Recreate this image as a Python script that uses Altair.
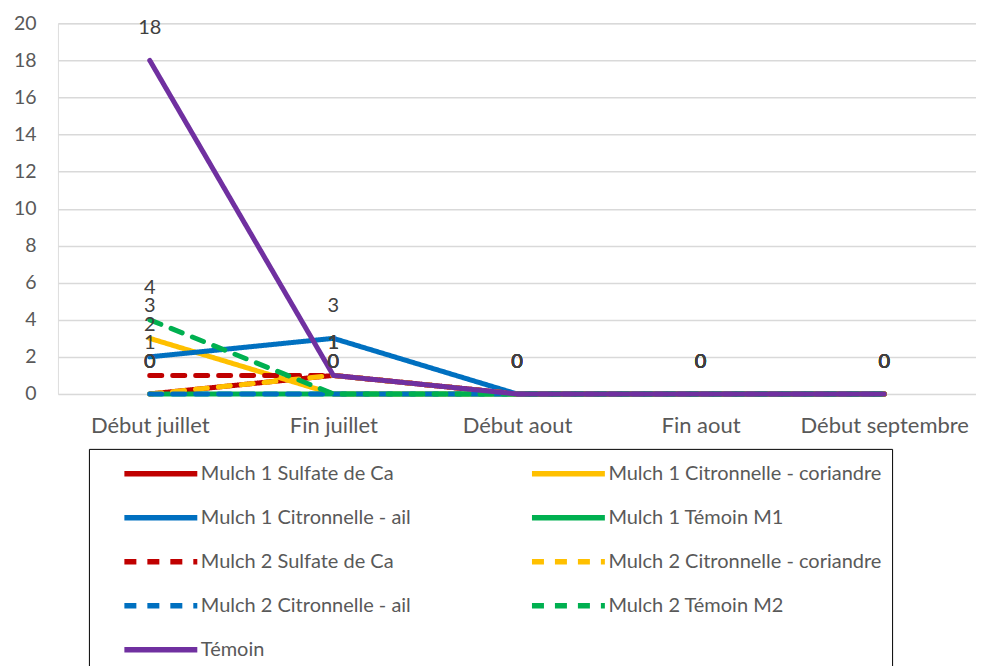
import altair as alt
import pandas as pd

categories = ["Début juillet", "Fin juillet", "Début aout", "Fin aout", "Début septembre"]

series_names = [
    "Mulch 1 Sulfate de Ca",
    "Mulch 1 Citronnelle - coriandre",
    "Mulch 1 Citronnelle - ail",
    "Mulch 1 Témoin M1",
    "Mulch 2 Sulfate de Ca",
    "Mulch 2 Citronnelle - coriandre",
    "Mulch 2 Citronnelle - ail",
    "Mulch 2 Témoin M2",
    "Témoin",
]

m1_sulfate = [0, 1, 0, 0, 0]
m1_cit_coriandre = [3, 0, 0, 0, 0]
m1_cit_ail = [2, 3, 0, 0, 0]
m1_temoin = [0, 0, 0, 0, 0]
m2_sulfate = [1, 1, 0, 0, 0]
m2_cit_coriandre = [0, 1, 0, 0, 0]
m2_cit_ail = [0, 0, 0, 0, 0]
m2_temoin = [4, 0, 0, 0, 0]
temoin = [18, 1, 0, 0, 0]

y_ticks = [0, 2, 4, 6, 8, 10, 12, 14, 16, 18, 20]

series_values = [m1_sulfate, m1_cit_coriandre, m1_cit_ail, m1_temoin,
                 m2_sulfate, m2_cit_coriandre, m2_cit_ail, m2_temoin, temoin]

colors = ["#C00000", "#FFC000", "#0070C0", "#00B050",
          "#C00000", "#FFC000", "#0070C0", "#00B050", "#7030A0"]
dashes = [[1, 0], [1, 0], [1, 0], [1, 0],
          [12, 11], [12, 11], [12, 11], [12, 11], [1, 0]]

rows = []
for i, (name, vals) in enumerate(zip(series_names, series_values)):
    for j, (cat, v) in enumerate(zip(categories, vals)):
        rows.append({"serie": name, "periode": cat, "valeur": v, "ordre": i})
df = pd.DataFrame(rows)

FONT = "Lato"

legend = alt.Legend(
    title=None, orient="none", legendX=31, legendY=426, columns=2,
    direction="horizontal",
    symbolType="M-3,0H3", symbolSize=592, symbolStrokeWidth=5.5,
    labelFont=FONT, labelFontSize=20, labelColor="#595959", labelLimit=400,
    labelOffset=25, strokeColor="black", fillColor="white", padding=10,
    rowPadding=18, columnPadding=95, symbolOffset=47,
)

x = alt.X("periode:N", sort=categories, title=None,
          scale=alt.Scale(paddingInner=0, paddingOuter=0.5),
          axis=alt.Axis(labelAngle=0, labelFont=FONT, labelFontSize=22,
                        labelColor="#595959", labelPadding=22, ticks=False,
                        domain=False, grid=False))
y = alt.Y("valeur:Q", title=None,
          scale=alt.Scale(domain=[0, 20], nice=False),
          axis=alt.Axis(values=y_ticks, tickCount=11, labelFont=FONT,
                        labelFontSize=19.5, labelColor="#595959", labelPadding=22,
                        labelOverlap=False, ticks=False, domain=False,
                        gridColor="#D9D9D9", gridWidth=1.5))

lines = alt.Chart(df).mark_line(strokeWidth=5, strokeCap="round", strokeJoin="round").encode(
    x=x, y=y,
    color=alt.Color("serie:N", sort=series_names,
                    scale=alt.Scale(domain=series_names, range=colors), legend=legend),
    strokeDash=alt.StrokeDash("serie:N", sort=series_names,
                              scale=alt.Scale(domain=series_names, range=dashes), legend=legend),
    order=alt.Order("ordre:Q"),
    detail="serie:N",
)

labels = alt.Chart(df).mark_text(dy=-32, font=FONT, fontSize=20, color="#404040").encode(
    x=x, y=y,
    text=alt.Text("valeur:Q"),
)

chart = alt.layer(lines, labels).properties(
    width=919, height=371,
    padding={"left": 5, "top": 5, "right": 0, "bottom": 0},
).configure_view(stroke=None).configure(background="white")

chart.save("out.html", embed_options={"renderer": "svg", "actions": False})
